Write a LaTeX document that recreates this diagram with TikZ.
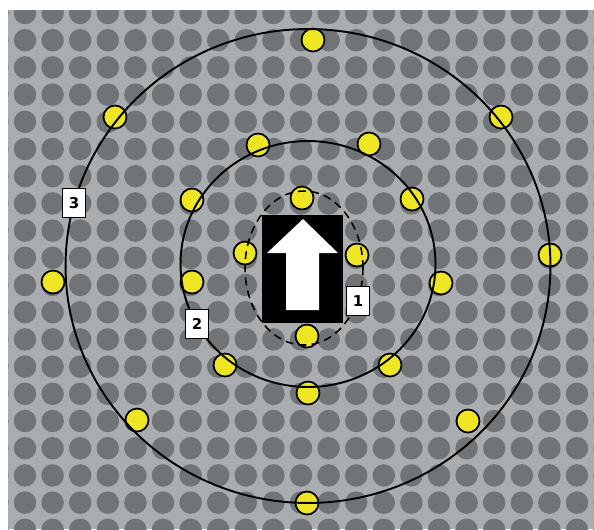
\documentclass[tikz,border=0pt]{standalone}
\usepackage{fontspec}
\setsansfont{DejaVu Sans}
\usetikzlibrary{positioning}
\definecolor{plate}{RGB}{170,173,175}
\definecolor{hole}{RGB}{112,116,119}
\definecolor{probe}{RGB}{238,230,35}

\begin{document}
\begin{tikzpicture}[x=0.02cm, y=-0.02cm,
                sensor/.style={draw=black, line width=1pt, circle, fill=probe, minimum size=0.46cm, inner sep=0pt},
                ring/.style={draw=black, line width=1.1pt},
                zone/.style={draw=black, line width=0.9pt, dash pattern=on 4.5pt off 3pt},
                body/.style={fill=black, rectangle, minimum width=1.62cm, minimum height=2.16cm, inner sep=0pt},
                tag/.style={draw=black, line width=0.6pt, fill=white, rectangle, minimum width=0.46cm, minimum height=0.58cm, inner sep=0pt, font=\sffamily\bfseries\fontsize{8.5}{10}\selectfont}
            ]

            % Hintergrund
            \useasboundingbox (0,0) rectangle (594,529);
            \fill[white] (0,0) rectangle (594,529);
            \fill[plate] (8,10) rectangle (594,529);
            \begin{scope}
                \clip (8,10) rectangle (594,529);
                \foreach \i in {-1,...,21}
                    \foreach \j in {0,...,19}
                        \fill[hole] ({25+27.6*\i},{13+27.2*\j}) circle (0.225cm);
            \end{scope}

            % Fahrzeug
            \node[body] (robot) at (302.5,269) {};
            \fill[white] (303,219) -- (338,253) -- (319,253) -- (319,310) -- (286,310) -- (286,253) -- (267,253) -- cycle;

            % Sensoren, innen
            \node[sensor] (i1) at (302,198) {};
            \node[sensor] (i2) at (245,253) {};
            \node[sensor] (i3) at (357,255) {};
            \node[sensor] (i4) at (307,336) {};

            % Sensoren, mitte
            \node[sensor] (m1) at (258,145) {};
            \node[sensor] (m2) at (369,144) {};
            \node[sensor] (m3) at (412,199) {};
            \node[sensor] (m4) at (441,283) {};
            \node[sensor] (m5) at (390,365) {};
            \node[sensor] (m6) at (308,393) {};
            \node[sensor] (m7) at (225,365) {};
            \node[sensor] (m8) at (192,282) {};
            \node[sensor] (m9) at (192,200) {};

            % Sensoren, aussen
            \node[sensor] (o1) at (313,40) {};
            \node[sensor] (o2) at (501,117) {};
            \node[sensor] (o3) at (550,255) {};
            \node[sensor] (o4) at (468,421) {};
            \node[sensor] (o5) at (307,503) {};
            \node[sensor] (o6) at (137,420) {};
            \node[sensor] (o7) at (53,282) {};
            \node[sensor] (o8) at (115,117) {};

            % Zonen
            \draw[zone] (304,268) ellipse [x radius=1.18cm, y radius=1.54cm];
            \draw[ring] (308,264) ellipse [x radius=2.55cm, y radius=2.46cm];
            \draw[ring] (308,266) ellipse [x radius=4.85cm, y radius=4.74cm];

            % Beschriftung
            \node[tag] (z1) at (358,301) {1};
            \node[tag] (z2) at (197,324) {2};
            \node[tag] (z3) at (74,203) {3};

        \end{tikzpicture}
\end{document}
